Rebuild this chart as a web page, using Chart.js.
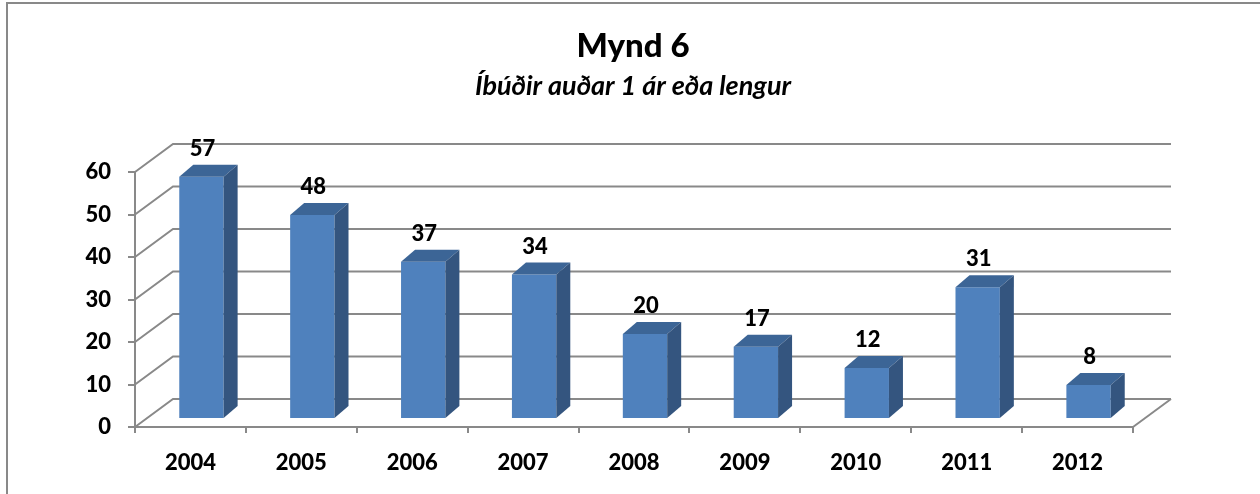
<!DOCTYPE html>
<html>
<head>
<meta charset="utf-8">
<script src="https://cdn.jsdelivr.net/npm/chart.js@4.4.1/dist/chart.umd.min.js"></script>
<style>
html, body { margin: 0; padding: 0; background: #fff; }
</style>
</head>
<body>
<canvas id="chart" width="1260" height="494"></canvas>
<script>
const years = ['2004', '2005', '2006', '2007', '2008', '2009', '2010', '2011', '2012'];
const emptyDwellings = [57, 48, 37, 34, 20, 17, 12, 31, 8];
const yMin = 0;
const yMax = 60;
const yStep = 10;
const chartTitle = 'Mynd 6';
const chartSubtitle = 'Íbúðir auðar 1 ár eða lengur';

const GRID = '#898989';
const FONT = 'Lato, "Open Sans", sans-serif';
// fake 3D: back wall offset, bar offset into the depth, bar thickness
const WALL = { x: 38, y: -28 };
const SHIFT = { x: 11, y: -8 };
const DEPTH = { x: 14, y: -12 };

function line(ctx, pts) {
    ctx.beginPath();
    ctx.moveTo(pts[0][0], pts[0][1]);
    for (let i = 1; i < pts.length; i++) ctx.lineTo(pts[i][0], pts[i][1]);
    ctx.stroke();
}

function poly(ctx, pts, color) {
    ctx.beginPath();
    ctx.moveTo(pts[0][0], pts[0][1]);
    for (let i = 1; i < pts.length; i++) ctx.lineTo(pts[i][0], pts[i][1]);
    ctx.closePath();
    ctx.fillStyle = color;
    ctx.fill();
}

const frame = {
    id: 'frame',
    beforeDraw(chart) {
        const ctx = chart.ctx;
        ctx.save();
        ctx.strokeStyle = GRID;
        ctx.lineWidth = 2;
        line(ctx, [[7, chart.height], [7, 3], [chart.width, 3]]);
        ctx.restore();
    }
};

const walls3d = {
    id: 'walls3d',
    beforeDatasetsDraw(chart) {
        const { ctx, chartArea: a, scales: { y } } = chart;
        ctx.save();
        ctx.strokeStyle = GRID;
        ctx.lineWidth = 2;
        y.ticks.forEach(t => {
            const py = y.getPixelForValue(t.value);
            line(ctx, [[a.left, py], [a.left + WALL.x, py + WALL.y], [a.right + WALL.x, py + WALL.y]]);
        });
        line(ctx, [[a.right, a.bottom], [a.right + WALL.x, a.bottom + WALL.y]]);
        ctx.restore();
        // bars sit part way into the depth
        ctx.save();
        ctx.translate(SHIFT.x, SHIFT.y);
    },
    afterDatasetsDraw(chart) {
        const ctx = chart.ctx;
        ctx.restore();
        const meta = chart.getDatasetMeta(0);
        ctx.save();
        meta.data.forEach((bar, i) => {
            const p = bar.getProps(['x', 'y', 'base', 'width'], true);
            const l = p.x - p.width / 2 + SHIFT.x;
            const r = p.x + p.width / 2 + SHIFT.x;
            const t = p.y + SHIFT.y;
            const b = p.base + SHIFT.y;
            poly(ctx, [[l, t], [l + DEPTH.x, t + DEPTH.y], [r + DEPTH.x, t + DEPTH.y], [r, t]], '#3c6596');
            poly(ctx, [[r, t], [r + DEPTH.x, t + DEPTH.y], [r + DEPTH.x, b + DEPTH.y], [r, b]], '#34557f');
            ctx.fillStyle = '#000';
            ctx.font = '900 22px ' + FONT;
            ctx.textAlign = 'center';
            ctx.textBaseline = 'middle';
            ctx.fillText(String(emptyDwellings[i]), p.x + SHIFT.x + 1, t - 28);
        });
        ctx.restore();
    }
};

new Chart(document.getElementById('chart'), {
    type: 'bar',
    data: {
        labels: years,
        datasets: [{
            data: emptyDwellings,
            yAxisID: 'y',
            backgroundColor: '#4f81bd',
            borderWidth: 0,
            barPercentage: 0.4,
            categoryPercentage: 1,
            clip: false
        }]
    },
    options: {
        responsive: false,
        devicePixelRatio: 1,
        animation: false,
        layout: { padding: { left: 6, right: 0, top: 0, bottom: 5 } },
        plugins: {
            legend: { display: false },
            tooltip: { enabled: false },
            title: {
                display: true,
                text: chartTitle,
                color: '#000',
                font: { family: FONT, size: 33, weight: '900' },
                padding: { top: 27, bottom: 0 }
            },
            subtitle: {
                display: true,
                text: chartSubtitle,
                color: '#000',
                font: { family: FONT, size: 27, weight: 'bold', style: 'italic' },
                padding: { top: 3, bottom: 70 }
            }
        },
        scales: {
            x: {
                afterFit(scale) { scale.height = 62; },
                grid: { drawOnChartArea: false, tickLength: 6, color: GRID, lineWidth: 2 },
                border: { color: GRID, width: 2 },
                ticks: { color: '#000', padding: 17, font: { family: FONT, size: 22, weight: '900' } }
            },
            y: {
                min: yMin,
                max: yMax,
                afterFit(scale) { scale.width = 129; },
                grid: { drawOnChartArea: false, tickLength: 7, color: GRID, lineWidth: 2 },
                border: { color: GRID, width: 2 },
                ticks: { stepSize: yStep, color: '#000', padding: 17, font: { family: FONT, size: 22, weight: '900' } }
            },
            // empty right-hand axis: keeps room for the 3D back wall
            yRight: {
                position: 'right',
                min: yMin,
                max: yMax,
                afterFit(scale) { scale.width = 127; },
                grid: { display: false },
                border: { display: false },
                ticks: { display: false }
            }
        }
    },
    plugins: [frame, walls3d]
});
</script>
</body>
</html>
